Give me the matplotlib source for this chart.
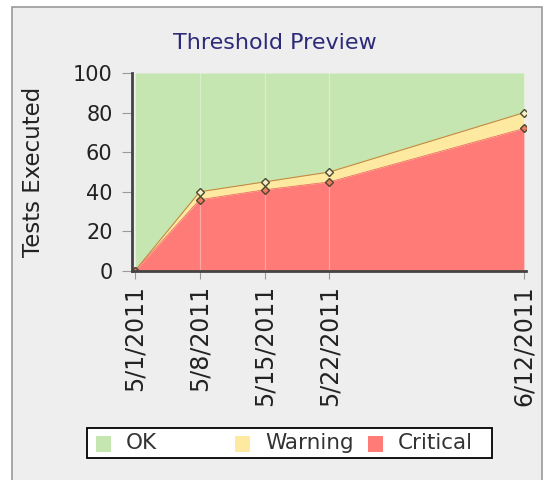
import matplotlib.pyplot as plt
import matplotlib.patches as mpatches
import numpy as np

dates = np.array(["2011-05-01", "2011-05-08", "2011-05-15", "2011-05-22", "2011-06-12"], dtype="datetime64[D]")
date_labels = ["5/1/2011", "5/8/2011", "5/15/2011", "5/22/2011", "6/12/2011"]
critical = [0, 36, 41, 45, 72]
warning = [0, 4, 4, 5, 8]
ok = [100, 60, 55, 50, 20]
legend_labels = ["OK", "Warning", "Critical"]

green = "#c6e6b1"
yellow = "#fde9a0"
red = "#ff7b78"
legend_colors = [green, yellow, red]

x = dates.astype(float)
warn_top = np.array(critical) + np.array(warning)
ok_top = warn_top + np.array(ok)

W, H = 550, 480
fig = plt.figure(figsize=(5.5, 4.8), dpi=100)
fig.patch.set_facecolor("white")
fig.patches.append(mpatches.Rectangle((12 / W, -0.05), 530 / W, 1.05 - 7 / H,
                                      transform=fig.transFigure, facecolor="#eeeeee",
                                      edgecolor="#9a9a9a", linewidth=1.2, zorder=-1))

ax = fig.add_axes([132 / W, 1 - 271 / H, 394 / W, 198 / H])
ax.set_facecolor("none")

ax.fill_between(x, warn_top, ok_top, color=green, linewidth=0)
ax.fill_between(x, critical, warn_top, color=yellow, linewidth=0)
ax.fill_between(x, 0, critical, color=red, linewidth=0)
ax.plot(x, warn_top, color="#c98a3a", linewidth=0.8)
ax.plot(x, critical, color="#f07060", linewidth=0.6)
for xi in x:
    ax.axvline(xi, color="white", alpha=0.35, linewidth=0.8)
ax.plot(x, warn_top, linestyle="none", marker="D", markersize=4.5,
        markerfacecolor="#f6efc8", markeredgecolor="#4a4a30", markeredgewidth=1)
ax.plot(x, critical, linestyle="none", marker="D", markersize=4.5,
        markerfacecolor="#f07a60", markeredgecolor="#4a4a30", markeredgewidth=1)

ax.set_xlim(x[0] - 0.3, x[-1] + 0.2)
ax.set_ylim(0, 100)
ax.set_yticks([0, 20, 40, 60, 80, 100])
ax.set_xticks(x)
ax.set_xticklabels(date_labels, rotation=90, fontsize=17, color="#222222")
ax.tick_params(axis="y", labelsize=15, labelcolor="#222222", length=7, color="#999999", pad=7)
ax.tick_params(axis="x", length=6, color="#999999", pad=4)

for s in ["top", "right"]:
    ax.spines[s].set_visible(False)
for s in ["left", "bottom"]:
    ax.spines[s].set_color("#444444")
    ax.spines[s].set_linewidth(2)

ax.set_ylabel("Tests Executed", fontsize=16.5, color="#222222")
ax.yaxis.set_label_coords((45 - 132) / 394, 0.5)
fig.text(275 / W, 1 - 43 / H, "Threshold Preview", ha="center", va="center",
         fontsize=16, color="#2e2a7a")

# legend drawn as equal-width cells
fig.patches.append(mpatches.Rectangle((87 / W, 1 - 458 / H), 405 / W, 30 / H,
                                      transform=fig.transFigure, facecolor="white",
                                      edgecolor="black", linewidth=1.3))
cell_x = [96, 235, 368]
for cx, lab, col in zip(cell_x, legend_labels, legend_colors):
    fig.patches.append(mpatches.Rectangle((cx / W, 1 - 452 / H), 15 / W, 16 / H,
                                          transform=fig.transFigure, facecolor=col,
                                          edgecolor="none"))
    fig.text((cx + 30) / W, 1 - 443 / H, lab, ha="left", va="center",
             fontsize=15.5, color="#333333")

fig.savefig("out.png", dpi=100)
